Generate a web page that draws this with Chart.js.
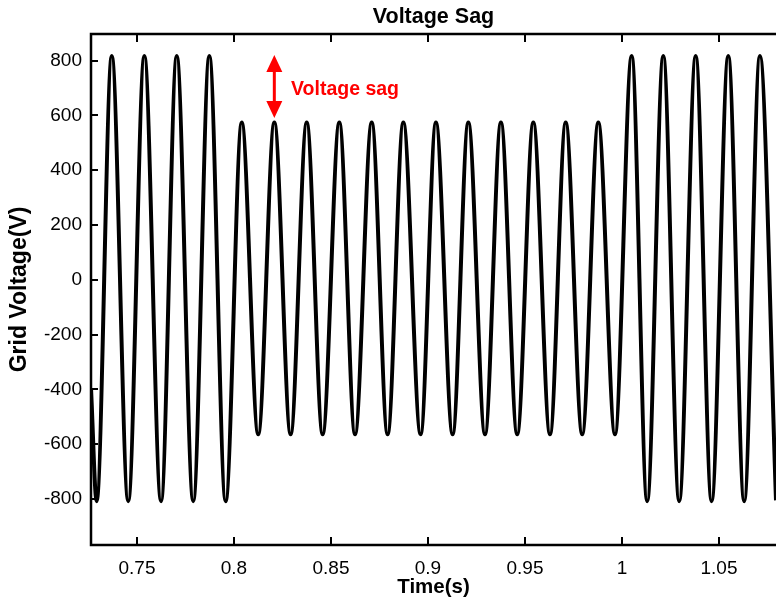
<!DOCTYPE html>
<html><head><meta charset="utf-8">
<script src="https://cdn.jsdelivr.net/npm/chart.js@4"></script>
<style>html,body{margin:0;padding:0;background:#fff}#wrap{width:776px;height:601px}</style>
</head><body><div id="wrap"><canvas id="c" width="776" height="601"></canvas></div>
<script>
// Extrema of the grid voltage waveform (time in s, voltage in V)
const times = [
  0.7263, 0.7292, 0.7370, 0.7455, 0.7538, 0.7624, 0.7705, 0.7790, 0.7873, 0.7957,
  0.8040, 0.8125, 0.8208, 0.8292, 0.8375, 0.8457, 0.8543, 0.8624, 0.8710, 0.8792,
  0.8873, 0.8962, 0.9041, 0.9127, 0.9208, 0.9294, 0.9376, 0.9460, 0.9543, 0.9629,
  0.9710, 0.9795, 0.9878, 0.9964, 1.0050, 1.0130, 1.0213, 1.0295, 1.0380, 1.0462,
  1.0548, 1.0630, 1.0711, 1.0794
];
const voltages = [
  -395, -808, 817, -808, 817, -808, 817, -808, 817, -808,
  574, -564, 574, -564, 574, -564, 574, -564, 574, -564,
  574, -564, 574, -564, 574, -564, 574, -564, 574, -564,
  574, -564, 574, -564, 817, -808, 817, -808, 817, -808,
  817, -808, 817, -805
];
const xTicks = [0.75, 0.8, 0.85, 0.9, 0.95, 1, 1.05];
const yTicks = [-800, -600, -400, -200, 0, 200, 400, 600, 800];
const xRange = [0.7263, 1.0794];
const yRange = [-968, 897];
// annotation
const sagArrowTime = 0.8208;
const sagArrowFrom = 820;
const sagArrowTo = 590;
const sagLabel = 'Voltage sag';
const sagLabelTime = 0.8294;
const sagLabelVolt = 694;

const FONT = '"Liberation Sans", Arial, Helvetica, sans-serif';

const frame = {
  id: 'frame',
  afterDraw(chart) {
    const { ctx, chartArea: a, scales: { x, y } } = chart;
    ctx.save();
    ctx.strokeStyle = '#000';
    ctx.lineWidth = 2.5;
    ctx.beginPath();
    ctx.moveTo(a.right + 2, a.top);
    ctx.lineTo(a.left, a.top);
    ctx.lineTo(a.left, a.bottom);
    ctx.lineTo(a.right + 2, a.bottom);
    ctx.stroke();
    ctx.lineWidth = 2;
    ctx.beginPath();
    xTicks.forEach(v => {
      const px = Math.round(x.getPixelForValue(v));
      ctx.moveTo(px, a.bottom); ctx.lineTo(px, a.bottom - 8);
      ctx.moveTo(px, a.top); ctx.lineTo(px, a.top + 8);
    });
    yTicks.forEach(v => {
      const py = Math.round(y.getPixelForValue(v));
      ctx.moveTo(a.left, py); ctx.lineTo(a.left + 7, py);
    });
    ctx.stroke();

    // double arrow
    const ax = x.getPixelForValue(sagArrowTime);
    const y1 = y.getPixelForValue(sagArrowFrom);
    const y2 = y.getPixelForValue(sagArrowTo);
    const hl = 17, hw = 8;
    ctx.strokeStyle = '#ff0000';
    ctx.fillStyle = '#ff0000';
    ctx.lineWidth = 3;
    ctx.beginPath();
    ctx.moveTo(ax, y1 + hl - 2); ctx.lineTo(ax, y2 - hl + 2);
    ctx.stroke();
    ctx.beginPath();
    ctx.moveTo(ax, y1); ctx.lineTo(ax - hw, y1 + hl); ctx.lineTo(ax + hw, y1 + hl); ctx.closePath();
    ctx.fill();
    ctx.beginPath();
    ctx.moveTo(ax, y2); ctx.lineTo(ax - hw, y2 - hl); ctx.lineTo(ax + hw, y2 - hl); ctx.closePath();
    ctx.fill();

    ctx.font = 'bold 19.5px ' + FONT;
    ctx.textAlign = 'left';
    ctx.textBaseline = 'middle';
    ctx.fillText(sagLabel, x.getPixelForValue(sagLabelTime), y.getPixelForValue(sagLabelVolt));
    ctx.restore();
  }
};

new Chart(document.getElementById('c'), {
  type: 'line',
  data: {
    datasets: [{
      data: times.map((t, i) => ({ x: t, y: voltages[i] })),
      borderColor: '#000',
      borderWidth: 4,
      pointRadius: 0,
      fill: false,
      cubicInterpolationMode: 'monotone',
      clip: 0
    }]
  },
  options: {
    responsive: false,
    animation: false,
    devicePixelRatio: 1,
    layout: { padding: 0 },
    plugins: {
      legend: { display: false },
      tooltip: { enabled: false },
      title: {
        display: true, text: 'Voltage Sag', color: '#000', fullSize: false,
        font: { family: FONT, size: 21.5, weight: 'bold', lineHeight: 1.2 },
        padding: { top: 4.5, bottom: 3.7 }
      }
    },
    scales: {
      x: {
        type: 'linear', min: xRange[0], max: xRange[1],
        afterBuildTicks: s => { s.ticks = xTicks.map(v => ({ value: v })); },
        afterFit: s => { s.height = 56; },
        grid: { display: false, drawTicks: false },
        border: { display: false },
        ticks: { autoSkip: false, maxRotation: 0, padding: 12, color: '#000',
                 font: { family: FONT, size: 19 }, callback: v => String(v) },
        title: { display: true, text: 'Time(s)', color: '#000',
                 font: { family: FONT, size: 20.5, weight: 'bold' }, padding: { top: 0, bottom: 1 } }
      },
      y: {
        type: 'linear', min: yRange[0], max: yRange[1],
        afterBuildTicks: s => { s.ticks = yTicks.map(v => ({ value: v })); },
        afterFit: s => { s.width = 91; },
        grid: { display: false, drawTicks: false },
        border: { display: false },
        ticks: { autoSkip: false, padding: 9, color: '#000',
                 font: { family: FONT, size: 19 }, callback: v => String(v) },
        title: { display: true, text: 'Grid Voltage(V)', color: '#000',
                 font: { family: FONT, size: 23, weight: 'bold' }, padding: { top: 6, bottom: 0 } }
      }
    }
  },
  plugins: [frame]
});
</script></body></html>
